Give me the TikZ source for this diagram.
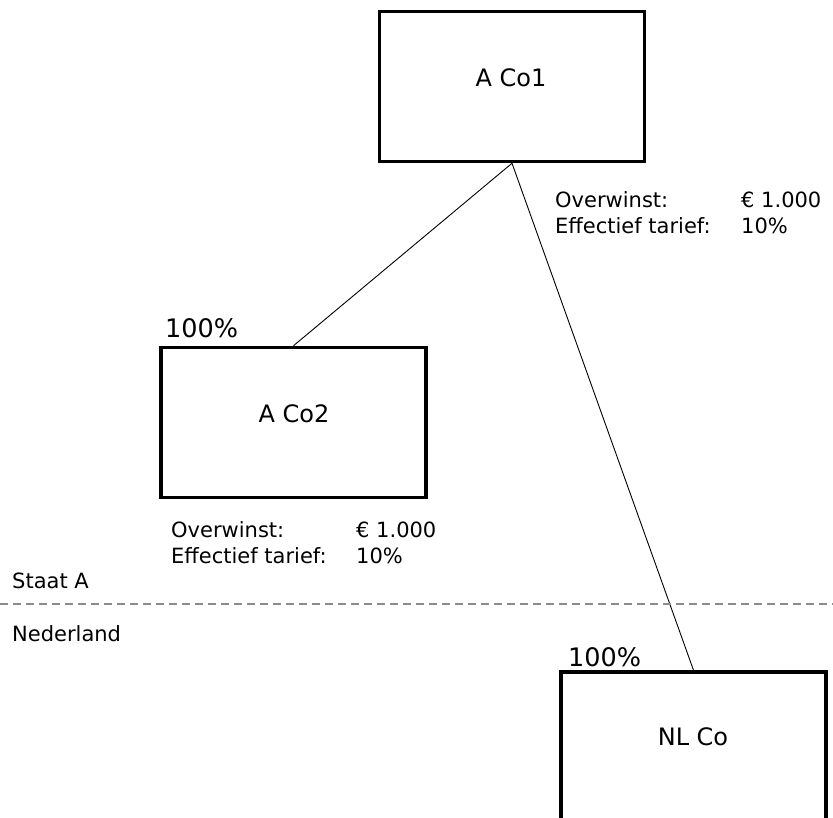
\documentclass[tikz,border=0pt]{standalone}
\usepackage{fontspec}
\setmainfont{DejaVu Sans}
\begin{document}
\begin{tikzpicture}[x=1pt,y=-1pt,
  entity/.style={draw=black,line width=3.5pt,minimum width=265pt,minimum height=150pt,inner sep=0pt},
  boxlabel/.style={font=\fontsize{24}{29}\selectfont,inner sep=0pt},
  share/.style={font=\fontsize{25.5}{30}\selectfont,inner sep=0pt,anchor=base west},
  info/.style={font=\fontsize{21}{26}\selectfont,inner sep=0pt,anchor=base west},
  link/.style={draw=black,line width=0.9pt}]
\useasboundingbox (0,0) rectangle (833,818);

% companies
\node[entity] (a1) at (512,86.5) {};
\node[entity] (a2) at (293.5,422.5) {};
\node[entity] (nl) at (693.5,747) {};

\node[boxlabel] (a1t) at (511,78) {A Co1};
\node[boxlabel] (a2t) at (294,414) {A Co2};
\node[boxlabel] (nlt) at (693,737) {NL Co};

% shareholdings
\draw[link] (a1.south) -- (a2.north);
\draw[link] (a1.south) -- (nl.north);
\node[share] (p2) at (165,338) {100\%};
\node[share] (pnl) at (568,666) {100\%};

% profit and rate, A Co1
\node[info] (ow1) at (555,208) {Overwinst:};
\node[info] (ow1v) at (741,208) {€ 1.000};
\node[info] (et1) at (555,234) {Effectief tarief:};
\node[info] (et1v) at (741,234) {10\%};

% profit and rate, A Co2
\node[info] (ow2) at (171,537) {Overwinst:};
\node[info] (ow2v) at (356,537) {€ 1.000};
\node[info] (et2) at (171,563) {Effectief tarief:};
\node[info] (et2v) at (356,563) {10\%};

% border between the two states
\coordinate (bl) at (0,604);
\coordinate (br) at (833,604);
\draw[gray!90,line width=1.8pt,dash pattern=on 8pt off 5pt] (bl) -- (br);
\node[info] (sa) at (12,588) {Staat A};
\node[info] (ned) at (12,641) {Nederland};
\end{tikzpicture}
\end{document}
